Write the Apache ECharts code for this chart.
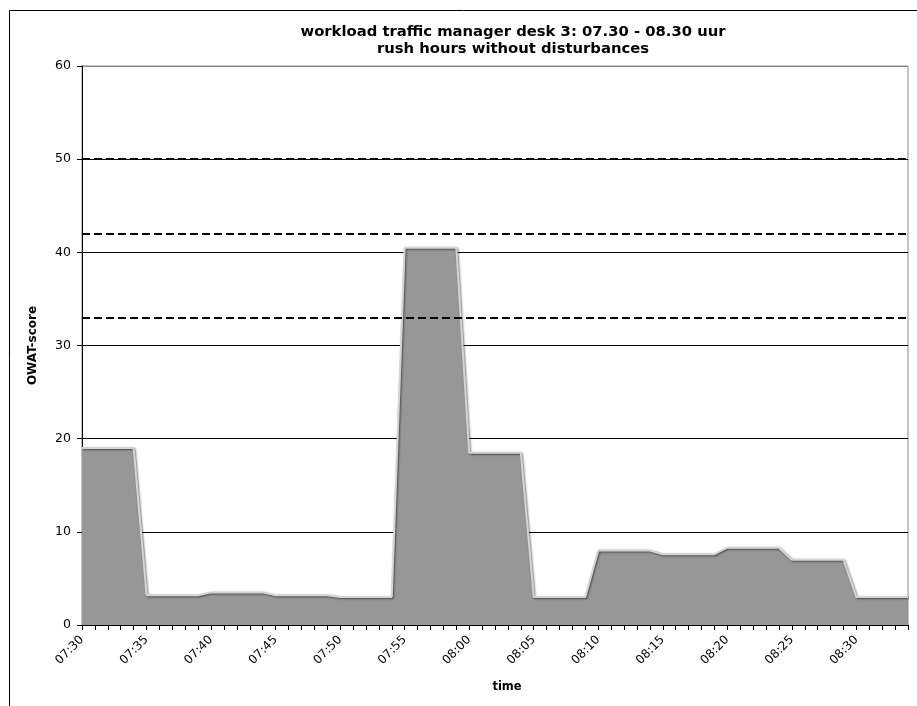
<!DOCTYPE html>
<html>
<head>
<meta charset="utf-8">
<script src="https://cdn.jsdelivr.net/npm/echarts@6/dist/echarts.min.js"></script>
<style>
    html, body {margin: 0; padding: 0; background: #fff;}
    #chart {width: 917px; height: 706px;}
</style>
</head>
<body>
<div id="chart"></div>
<script>
// minuten 07:30 - 08:34
var times = [
    "07:30", "07:31", "07:32", "07:33", "07:34", "07:35", "07:36", "07:37", "07:38", "07:39",
    "07:40", "07:41", "07:42", "07:43", "07:44", "07:45", "07:46", "07:47", "07:48", "07:49",
    "07:50", "07:51", "07:52", "07:53", "07:54", "07:55", "07:56", "07:57", "07:58", "07:59",
    "08:00", "08:01", "08:02", "08:03", "08:04", "08:05", "08:06", "08:07", "08:08", "08:09",
    "08:10", "08:11", "08:12", "08:13", "08:14", "08:15", "08:16", "08:17", "08:18", "08:19",
    "08:20", "08:21", "08:22", "08:23", "08:24", "08:25", "08:26", "08:27", "08:28", "08:29",
    "08:30", "08:31", "08:32", "08:33", "08:34"
];
// OWAT-score per minuut
var owatScore = [
    19.0, 19.0, 19.0, 19.0, 19.0, 3.2, 3.2, 3.2, 3.2, 3.2,
    3.5, 3.5, 3.5, 3.5, 3.5, 3.2, 3.2, 3.2, 3.2, 3.2,
    3.0, 3.0, 3.0, 3.0, 3.0, 40.5, 40.5, 40.5, 40.5, 40.5,
    18.5, 18.5, 18.5, 18.5, 18.5, 3.0, 3.0, 3.0, 3.0, 3.0,
    8.0, 8.0, 8.0, 8.0, 8.0, 7.6, 7.6, 7.6, 7.6, 7.6,
    8.3, 8.3, 8.3, 8.3, 8.3, 7.0, 7.0, 7.0, 7.0, 7.0,
    3.0, 3.0, 3.0, 3.0, 3.0
];
// grenswaarden (stippellijnen)
var thresholds = [50, 42, 33];
var yTicks = [0, 10, 20, 30, 40, 50, 60];

var font = 'DejaVu Sans';

var myChart = echarts.init(document.getElementById('chart'));
var option = {
    animation: false,
    title: {
        text: 'workload traffic manager desk 3: 07.30 - 08.30 uur\nrush hours without disturbances',
        left: 508,
        top: 19,
        textAlign: 'center',
        textStyle: {
            color: '#000',
            fontFamily: font,
            fontWeight: 'bold',
            fontSize: 14.8,
            lineHeight: 17
        }
    },
    graphic: [{
        type: 'rect',
        shape: {x: 9.5, y: 10.5, width: 930, height: 730},
        style: {fill: null, stroke: '#000', lineWidth: 1},
        silent: true
    }],
    grid: {
        left: 82,
        right: 9,
        top: 66,
        bottom: 81,
        show: true,
        borderColor: '#888',
        borderWidth: 1
    },
    xAxis: {
        type: 'category',
        boundaryGap: false,
        data: times,
        name: 'time',
        nameLocation: 'middle',
        nameGap: 56,
        nameTextStyle: {color: '#000', fontFamily: font, fontWeight: 'bold', fontSize: 11.5, padding: [0, 0, 0, 24]},
        axisLine: {lineStyle: {color: '#000', width: 1}},
        axisTick: {show: true, interval: 0, length: 5, lineStyle: {color: '#000'}},
        axisLabel: {
            interval: 4,
            rotate: 45,
            margin: 13,
            color: '#000',
            fontFamily: font,
            fontSize: 12
        },
        splitLine: {show: false}
    },
    yAxis: {
        type: 'value',
        min: yTicks[0],
        max: yTicks[yTicks.length - 1],
        interval: 10,
        name: 'OWAT-score',
        nameLocation: 'middle',
        nameGap: 43,
        nameTextStyle: {color: '#000', fontFamily: font, fontWeight: 'bold', fontSize: 12},
        axisLine: {show: true, lineStyle: {color: '#000', width: 1}},
        axisTick: {show: true, length: 5, lineStyle: {color: '#000'}},
        axisLabel: {margin: 11, color: '#000', fontFamily: font, fontSize: 12.5},
        splitLine: {
            show: true,
            lineStyle: {color: ['#000', '#000', '#000', '#000', '#000', '#000', '#888'], width: 1}
        }
    },
    series: [
        {
            name: 'OWAT-score',
            type: 'line',
            data: owatScore,
            symbol: 'none',
            lineStyle: {
                color: '#d4d4d4',
                width: 2,
                shadowColor: 'rgba(0,0,0,0.55)',
                shadowBlur: 2,
                shadowOffsetX: 1,
                shadowOffsetY: 1
            },
            areaStyle: {color: '#979797', opacity: 1},
            markLine: {
                silent: true,
                symbol: 'none',
                label: {show: false},
                lineStyle: {color: '#000', type: [8, 4], width: 2},
                data: thresholds.map(function (v) {
                    return {yAxis: v};
                })
            },
            z: 2
        }
    ]
};
myChart.setOption(option);
</script>
</body>
</html>
